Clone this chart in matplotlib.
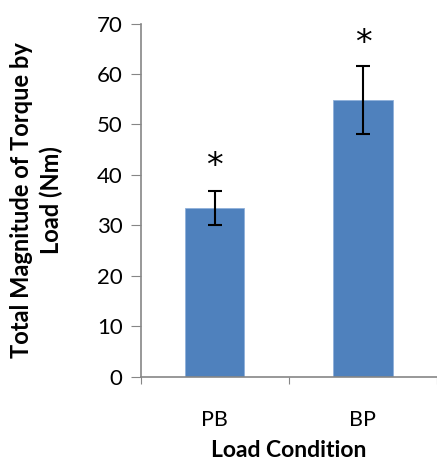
import matplotlib
matplotlib.use('Agg')
import matplotlib.pyplot as plt
import numpy as np

# data
conditions = ['PB', 'BP']
torque = [33.4, 54.8]
torque_err = [3.35, 6.7]
star_y = [41.7, 66.1]

plt.rcParams['font.family'] = ['Lato', 'DejaVu Sans']

fig = plt.figure(figsize=(4.37, 4.62), dpi=100)
ax = fig.add_axes([0.322, 0.185, 0.678, 0.764])

x = np.arange(len(conditions))
ax.bar(x, torque, width=0.4, color='#4F81BD', edgecolor='#8FB0DA', linewidth=0.6,
       yerr=torque_err, error_kw=dict(ecolor='black', elinewidth=1.5, capsize=5, capthick=1.5))

for xi, yi in zip(x, star_y):
    ax.text(xi, yi, '*', ha='center', va='center', fontsize=24, family='DejaVu Sans')

ax.set_xlim(-0.5, 1.5)
ax.set_ylim(0, 70)
ax.set_yticks(np.arange(0, 71, 10))
ax.set_xticks([-0.5, 0.5, 1.5], minor=False)
ax.set_xticklabels(['', '', ''])
ax.set_xticks(x, minor=True)
ax.set_xticklabels(conditions, minor=True, fontsize=15.5)
ax.tick_params(axis='x', which='minor', length=0, pad=24)
ax.tick_params(axis='x', which='major', length=5, color='#868686', direction='out')
ax.tick_params(axis='y', length=7, color='#868686', labelsize=16, pad=6)

for s in ['top', 'right']:
    ax.spines[s].set_visible(False)
for s in ['left', 'bottom']:
    ax.spines[s].set_color('#868686')
    ax.spines[s].set_linewidth(1.2)

ax.set_ylabel('Total Magnitude of Torque by\nLoad (Nm)', fontsize=17, fontweight='bold',
              linespacing=1.35, labelpad=24)
ax.set_xlabel('Load Condition', fontsize=16.5, fontweight='bold')
ax.xaxis.label.set_va('center')
ax.xaxis.set_label_coords(0.5, -0.21)

fig.savefig('out.png', dpi=100)
